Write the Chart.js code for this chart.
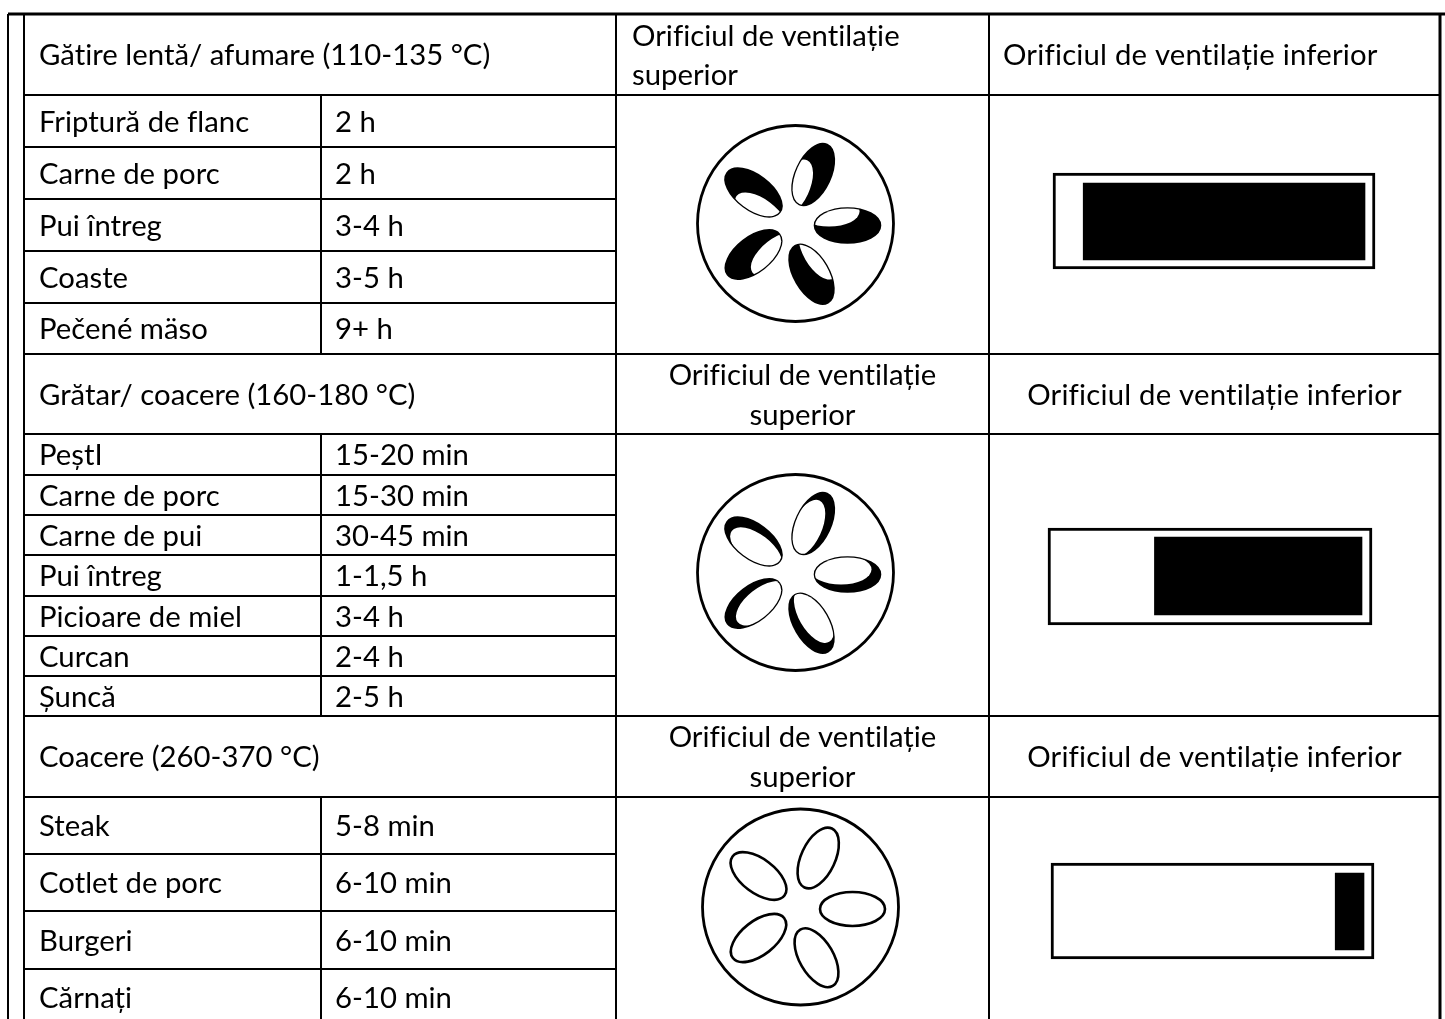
<!DOCTYPE html>
<html lang="ro">
<head>
<meta charset="utf-8">
<title>Orificii de ventilație</title>
<script src="https://cdn.jsdelivr.net/npm/chart.js@4"></script>
<style>
    html, body { margin: 0; padding: 0; background: #fff; overflow: hidden; }
    canvas { display: block; filter: blur(0.4px); }
</style>
</head>
<body>
<canvas id="ventChart" width="1445" height="1019"></canvas>
<script>
// Data
const sectionTitles = ['Gătire lentă/ afumare (110-135 °C)', 'Grătar/ coacere (160-180 °C)', 'Coacere (260-370 °C)'];
const slowFoods = ['Friptură de flanc', 'Carne de porc', 'Pui întreg', 'Coaste', 'Pečené mäso'];
const slowTimes = ['2 h', '2 h', '3-4 h', '3-5 h', '9+ h'];
const grillFoods = ['PeștI', 'Carne de porc', 'Carne de pui', 'Pui întreg', 'Picioare de miel', 'Curcan', 'Șuncă'];
const grillTimes = ['15-20 min', '15-30 min', '30-45 min', '1-1,5 h', '3-4 h', '2-4 h', '2-5 h'];
const roastFoods = ['Steak', 'Cotlet de porc', 'Burgeri', 'Cărnați'];
const roastTimes = ['5-8 min', '6-10 min', '6-10 min', '6-10 min'];
const upperVentLabel = ['Orificiul de ventilație', 'superior'];
const lowerVentLabel = 'Orificiul de ventilație inferior';
const upperVentClosed = [0.68, 0.24, 0];   // partea neagră din fiecare petală
const lowerVentFilled = [93, 68.5, 9.5];   // % din orificiul inferior

// Layout (pixels of the page, used as axis units)
const colLeft = 24, colTime = 321, colUpper = 616, colLower = 989, colRight = 1440;
const headerTops = [14, 354, 716];
const headerBottoms = [95, 434, 797];
const sectionRowEdges = [
    [95, 147, 199, 251, 303, 354],
    [434, 475, 515, 555, 596, 636, 676, 716],
    [797, 854, 911, 969, 1026]
];
const iconCenters = [{ x: 795.5, y: 223.5 }, { x: 795.5, y: 572.5 }, { x: 800.5, y: 907 }];
const boxes = [
    { left: 1053, right: 1375, top: 173, bottom: 269, fillRight: 1365, fillTop: 183, fillBottom: 260 },
    { left: 1048, right: 1372, top: 528, bottom: 625, fillRight: 1362, fillTop: 537, fillBottom: 615 },
    { left: 1051, right: 1374, top: 863, bottom: 959, fillRight: 1364, fillTop: 873, fillBottom: 950 }
];
const fillTrack = 303;
const petals = [
    { dx: 52, dy: 2, axis: 0 },
    { dx: 17.7, dy: -49, axis: -65 },
    { dx: -42, dy: -31, axis: 37 },
    { dx: -42, dy: 31, axis: -38 },
    { dx: 16, dy: 50.7, axis: 60 }
];
const petalA = 32.5, petalB = 17;
const fontPx = 29.3, textDrop = 1.5;

// Grid lines with breaks between them
function linePoints(segments) {
    const points = [];
    segments.forEach((s) => {
        points.push({ x: s[0], y: s[1] }, { x: s[2], y: s[3] }, { x: NaN, y: NaN });
    });
    return points;
}

const thinLines = [[8, 14, 8, 1019], [colLeft, 14, colLeft, 1019], [colUpper, 14, colUpper, 1019], [colLower, 14, colLower, 1019]];
headerBottoms.concat(headerTops.slice(1)).forEach((y) => thinLines.push([colLeft, y, colRight, y]));
sectionRowEdges.forEach((edges) => {
    thinLines.push([colTime, edges[0], colTime, Math.min(edges[edges.length - 1], 1019)]);
    edges.slice(1, -1).forEach((y) => thinLines.push([colLeft, y, colUpper, y]));
});
const thickLines = [[8, 14, 1445, 14], [colRight, 14, colRight, 1019]];

function lineDataset(segments, width) {
    return {
        type: 'scatter', showLine: true, data: linePoints(segments), borderColor: '#000',
        borderWidth: width, pointRadius: 0, spanGaps: false, order: 0
    };
}

function boxDataset(data, thickness, bg, border, order) {
    return {
        type: 'bar', indexAxis: 'y', data: data, barThickness: thickness, grouped: false,
        backgroundColor: bg, borderColor: border, borderWidth: border ? 3 : 0, borderSkipped: false, order: order
    };
}

const datasets = [lineDataset(thinLines, 2), lineDataset(thickLines, 3)];
datasets.push({
    type: 'scatter', data: iconCenters, pointRadius: 98, pointBorderWidth: 2.8,
    pointBackgroundColor: '#fff', pointBorderColor: '#000', order: 3
});
boxes.forEach((b, i) => {
    const midY = (b.top + b.bottom) / 2;
    const fillMid = (b.fillTop + b.fillBottom) / 2;
    datasets.push(boxDataset([{ x: [b.left, b.right], y: midY }], b.bottom - b.top, '#fff', '#000', 3));
    datasets.push(boxDataset([{ x: [b.fillRight - lowerVentFilled[i] / 100 * fillTrack, b.fillRight], y: fillMid }], b.fillBottom - b.fillTop, '#000', null, 2));
});

// Petals of the upper vent
const petalPlugin = {
    id: 'petals',
    afterDatasetsDraw(chart) {
        const ctx = chart.ctx;
        const { x: sx, y: sy } = chart.scales;
        iconCenters.forEach((c, i) => {
            petals.forEach((p) => {
                const rad = p.axis * Math.PI / 180;
                const shift = upperVentClosed[i] * 2 * petalB;
                const dir = Math.atan2(p.dy, p.dx) - 145 * Math.PI / 180 - rad;
                ctx.save();
                ctx.translate(sx.getPixelForValue(c.x + p.dx), sy.getPixelForValue(c.y + p.dy));
                ctx.rotate(rad);
                ctx.beginPath();
                ctx.ellipse(0, 0, petalA, petalB, 0, 0, Math.PI * 2);
                ctx.fillStyle = shift > 0 ? '#000' : '#fff';
                ctx.fill();
                ctx.lineWidth = 2.6;
                ctx.strokeStyle = '#000';
                ctx.stroke();
                if (shift > 0) {
                    ctx.clip();
                    ctx.beginPath();
                    ctx.ellipse(Math.cos(dir) * shift, Math.sin(dir) * shift, petalA - 2, petalB - 2, 0, 0, Math.PI * 2);
                    ctx.fillStyle = '#fff';
                    ctx.fill();
                }
                ctx.restore();
            });
        });
    }
};

// Table text
const textPlugin = {
    id: 'tableText',
    afterDraw(chart) {
        const ctx = chart.ctx;
        const { x: sx, y: sy } = chart.scales;
        ctx.save();
        ctx.font = fontPx + 'px Lato';
        ctx.fillStyle = '#000';
        ctx.textBaseline = 'middle';
        function put(text, x, y, align, spacing) {
            ctx.textAlign = align || 'left';
            ctx.letterSpacing = spacing || '0.01px';   // keeps fi/ti as separate letters
            ctx.fillText(text, sx.getPixelForValue(x), sy.getPixelForValue(y + textDrop));
        }
        const foods = [slowFoods, grillFoods, roastFoods];
        const times = [slowTimes, grillTimes, roastTimes];
        sectionTitles.forEach((title, i) => {
            const headerMid = (headerTops[i] + headerBottoms[i]) / 2;
            put(title, 39, headerMid);
            if (i === 0) {
                put(upperVentLabel[0], 632, headerMid - 19);
                put(upperVentLabel[1], 632, headerMid + 20);
                put(lowerVentLabel, 1003, headerMid, 'left', '0.2px');
            } else {
                const midUpper = (colUpper + colLower) / 2;
                put(upperVentLabel[0], midUpper, headerMid - 20, 'center');
                put(upperVentLabel[1], midUpper, headerMid + 20, 'center');
                put(lowerVentLabel, (colLower + colRight) / 2, headerMid, 'center', '0.2px');
            }
            foods[i].forEach((food, r) => {
                const mid = (sectionRowEdges[i][r] + sectionRowEdges[i][r + 1]) / 2;
                put(food, 39, mid);
                put(times[i][r], 335, mid);
            });
        });
        ctx.restore();
    }
};

new Chart(document.getElementById('ventChart'), {
    type: 'scatter',
    data: { datasets: datasets },
    plugins: [petalPlugin, textPlugin],
    options: {
        responsive: false,
        animation: false,
        events: [],
        layout: { padding: 0, autoPadding: false },
        plugins: { legend: { display: false }, tooltip: { enabled: false } },
        scales: {
            x: { type: 'linear', min: 0, max: 1445, display: false, offset: false },
            y: { type: 'linear', min: 0, max: 1019, reverse: true, display: false, offset: false }
        }
    }
});
</script>
</body>
</html>
